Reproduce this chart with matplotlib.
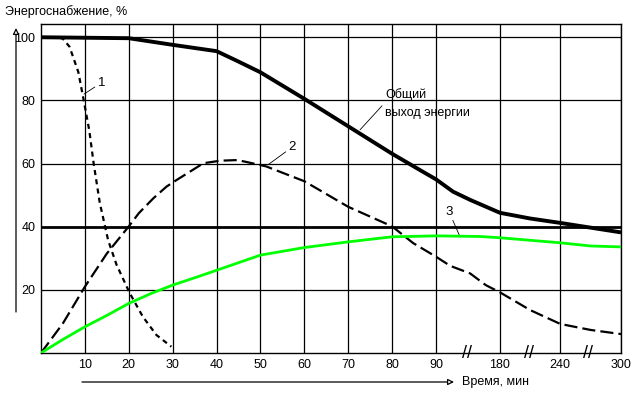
import numpy as np
import matplotlib
matplotlib.use("Agg")
import matplotlib.pyplot as plt
from matplotlib.transforms import blended_transform_factory

plt.rcParams['font.family'] = ['Liberation Sans', 'DejaVu Sans']

# --- data (time in minutes, energy supply in %) ---
t_total = [0, 20, 30, 40, 45, 50, 60, 70, 80, 86.4, 90, 114, 138, 180, 210, 240, 270, 300]
e_total = [100, 99.7, 97.6, 95.6, 92.3, 88.9, 80.5, 71.8, 63.1, 57.9, 55.0, 51.1, 48.5, 44.4, 42.6, 41.2, 39.7, 38.2]

t_1 = [0, 4, 5, 6.5, 8.5, 9.6, 11, 12, 13.4, 15.3, 17.2, 20.2, 23.2, 26.3, 29.7]
e_1 = [100, 100, 99.5, 97, 89, 81, 70.5, 60, 47.5, 35.7, 28, 19, 11.5, 5.7, 2]

t_2 = [0, 5, 10, 15, 20, 22.3, 25.6, 28.6, 30.9, 33.9, 37, 40.8, 44.6, 46.5, 51.3, 60, 70, 80,
       84.8, 90, 110, 138, 160, 180, 210, 240, 270, 300]
e_2 = [0, 9.4, 21, 31.5, 40.1, 44.3, 49, 52.7, 54.8, 57.4, 60.1, 60.9, 61.1, 60.6, 59.1, 54.4, 46.3, 40.1,
       34.8, 30.5, 27.6, 25.2, 21.5, 19.2, 13.6, 9.2, 7.3, 6]

t_3 = [0, 5, 10, 15, 20, 25, 30, 35.6, 40, 50, 60, 70, 80, 90, 152, 180, 210, 240, 270, 300]
e_3 = [0, 4.3, 8.3, 11.9, 15.7, 18.8, 21.5, 24.1, 26.2, 31, 33.4, 35.2, 36.8, 37.1, 36.9, 36.5, 35.7, 34.9, 33.9, 33.6]

x_ticks = [10, 20, 30, 40, 50, 60, 70, 80, 90, 180, 240, 300]
y_ticks = [20, 40, 60, 80, 100]

# broken time axis: 0..90 linear, then compressed segments
seg_t = np.array([0, 90, 180, 240, 300], dtype=float)
seg_p = np.array([0, 9, 10.458, 11.832, 13.215])


def fwd(t):
    t = np.asarray(t, dtype=float)
    p = np.interp(t, seg_t, seg_p)
    p = np.where(t < 0, t / 10.0, p)
    p = np.where(t > 300, seg_p[-1] + (t - 300) / 60 * (seg_p[-1] - seg_p[-2]), p)
    return p


def inv(p):
    p = np.asarray(p, dtype=float)
    t = np.interp(p, seg_p, seg_t)
    t = np.where(p < 0, p * 10.0, t)
    t = np.where(p > seg_p[-1], 300 + (p - seg_p[-1]) * 60 / (seg_p[-1] - seg_p[-2]), t)
    return t


fig = plt.figure(figsize=(6.42, 3.98), dpi=100)
ax = fig.add_axes([41 / 642, 45 / 398, 580 / 642, 329 / 398])
ax.set_xscale('function', functions=(fwd, inv))
ax.set_xlim(0, 300)
ax.set_ylim(0, 104.2)

# grid
for t in x_ticks:
    ax.axvline(t, color='black', lw=0.9, zorder=1)
for e in y_ticks:
    ax.axhline(e, color='black', lw=2.0 if e == 40 else 0.9, zorder=1)

ax.plot(t_total, e_total, color='black', lw=2.8, solid_capstyle='butt', zorder=3)
ax.plot(t_1, e_1, color='black', lw=1.6, dashes=(2.3, 1.9), zorder=3)
ax.plot(t_2, e_2, color='black', lw=1.6, dashes=(5.9, 2.3), zorder=3)
ax.plot(t_3, e_3, color='#00ff00', lw=2.0, zorder=4)

ax.set_xticks(x_ticks)
ax.set_xticklabels([str(v) for v in x_ticks])
ax.set_yticks(y_ticks)
ax.set_yticklabels([str(v) for v in y_ticks])
ax.tick_params(length=0, labelsize=9, pad=4)
ax.xaxis.set_minor_locator(plt.NullLocator())
for s in ax.spines.values():
    s.set_color('black')
    s.set_linewidth(1.0)

# curve labels with leader lines
lead = dict(arrowstyle='-', color='black', lw=0.6, shrinkA=0, shrinkB=0)
ax.annotate('1', xy=(9.8, 82.0), xytext=(12.9, 85.6), fontsize=9.5, ha='left', va='center', arrowprops=lead)
ax.annotate('2', xy=(51.7, 59.6), xytext=(56.4, 65.2), fontsize=9.5, ha='left', va='center', arrowprops=lead)
ax.annotate('3', xy=(123.8, 36.8), xytext=(103, 44.8), fontsize=9.5, ha='left', va='center', arrowprops=lead)
ax.annotate('', xy=(72.7, 70.7), xytext=(77.7, 78.3), arrowprops=lead)
ax.text(78.4, 81.8, 'Общий', fontsize=9, ha='left', va='center')
ax.text(78.4, 76.0, 'выход энергии', fontsize=9, ha='left', va='center')

# axis break marks
trans = blended_transform_factory(ax.transData, ax.transAxes)
for t in [133.6, 209, 267.5]:
    ax.text(t, 0, '//', transform=trans, fontsize=13, ha='center', va='center',
            clip_on=False, zorder=5)

# outer axis arrows and titles
fig.text(5 / 642, 1 - 12 / 398, 'Энергоснабжение, %', fontsize=9, ha='left', va='center')
fig.text(462 / 642, 1 - 382 / 398, 'Время, мин', fontsize=9, ha='left', va='center')
arr = dict(arrowstyle='-|>', color='black', lw=0.9, fc='white', mutation_scale=9,
           shrinkA=0, shrinkB=0)
fig.add_artist(plt.Annotation('', xy=(16 / 642, 1 - 28 / 398), xytext=(16 / 642, 1 - 312 / 398),
                              xycoords='figure fraction', arrowprops=arr))
fig.add_artist(plt.Annotation('', xy=(454 / 642, 1 - 382 / 398), xytext=(82 / 642, 1 - 382 / 398),
                              xycoords='figure fraction', arrowprops=arr))

fig.savefig('out.png', dpi=100)
